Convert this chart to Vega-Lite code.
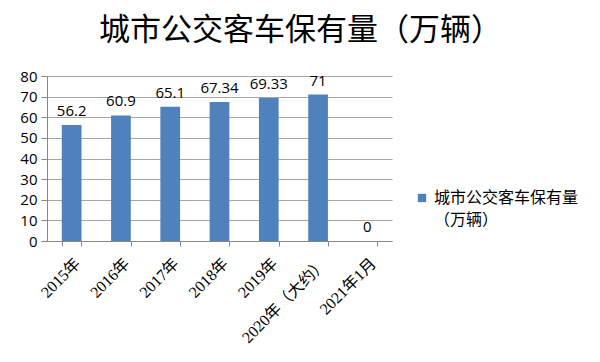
{
  "$schema": "https://vega.github.io/schema/vega-lite/v6.json",
  "width": 345,
  "height": 165,
  "autosize": "none",
  "padding": {"left": 47, "top": 76, "right": 208, "bottom": 121},
  "background": "white",
  "title": {
    "text": "城市公交客车保有量（万辆）",
    "font": "Noto Sans CJK SC",
    "fontSize": 31,
    "fontWeight": "normal",
    "color": "#000000",
    "anchor": "middle",
    "dx": 81,
    "offset": 22
  },
  "data": {
    "values": [
      {"year": "2015年", "v": 56.2, "s": "城市公交客车保有量（万辆）"},
      {"year": "2016年", "v": 60.9, "s": "城市公交客车保有量（万辆）"},
      {"year": "2017年", "v": 65.1, "s": "城市公交客车保有量（万辆）"},
      {"year": "2018年", "v": 67.34, "s": "城市公交客车保有量（万辆）"},
      {"year": "2019年", "v": 69.33, "s": "城市公交客车保有量（万辆）"},
      {"year": "2020年（大约）", "v": 71, "s": "城市公交客车保有量（万辆）"},
      {"year": "2021年1月", "v": 0, "s": "城市公交客车保有量（万辆）"}
    ]
  },
  "encoding": {
    "x": {
      "field": "year",
      "type": "nominal",
      "sort": null,
      "title": null,
      "scale": {"paddingInner": 0.6, "paddingOuter": 0.3},
      "axis": {
        "labelAngle": -45,
        "labelFont": "Liberation Serif, Noto Sans CJK SC",
        "labelFontSize": 16,
        "labelColor": "#000000",
        "tickBand": "extent",
        "tickColor": "#888888",
        "tickSize": 5,
        "domainColor": "#888888",
        "labelPadding": 9
      }
    },
    "y": {
      "field": "v",
      "type": "quantitative",
      "title": null,
      "scale": {"domain": [0, 80]},
      "axis": {
        "values": [0, 10, 20, 30, 40, 50, 60, 70, 80],
        "labelFont": "Open Sans",
        "labelFontSize": 15,
        "labelColor": "#000000",
        "gridColor": "#a6a6a6",
        "tickColor": "#888888",
        "tickSize": 6,
        "domainColor": "#888888",
        "labelPadding": 4
      }
    }
  },
  "layer": [
    {
      "mark": {"type": "bar"},
      "encoding": {
        "color": {
          "field": "s",
          "type": "nominal",
          "scale": {"range": ["#4F81BD"]},
          "legend": {
            "title": null,
            "orient": "none",
            "legendX": 367,
            "legendY": 114,
            "symbolType": "square",
            "symbolSize": 70,
            "labelFont": "Noto Sans CJK SC",
            "labelFontSize": 16,
            "labelColor": "#000000",
            "labelLimit": 300,
            "labelExpr": "['城市公交客车保有量', '（万辆）']"
          }
        }
      }
    },
    {
      "mark": {"type": "text", "dy": -14, "font": "Open Sans", "fontSize": 15, "color": "#000000"},
      "encoding": {
        "text": {"field": "v", "type": "quantitative"}
      }
    }
  ],
  "config": {
    "view": {"stroke": null},
    "style": {"guide-label": {"lineHeight": 22}}
  }
}
